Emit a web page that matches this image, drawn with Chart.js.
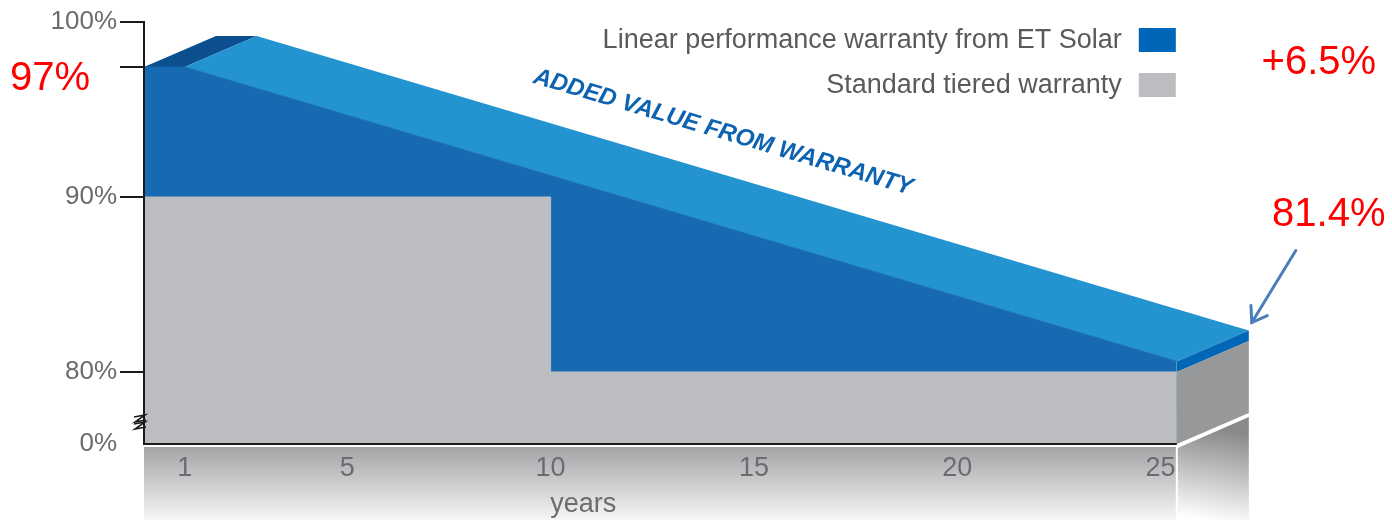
<!DOCTYPE html>
<html>
<head>
<meta charset="utf-8">
<script src="https://cdn.jsdelivr.net/npm/chart.js@4/dist/chart.umd.min.js"></script>
<style>
html,body{margin:0;padding:0;background:#ffffff;}
#wrap{width:1392px;height:520px;position:relative;}
</style>
</head>
<body>
<div id="wrap"><canvas id="c"></canvas></div>
<script>
// ---------- data ----------
const linearYears  = [0, 1, 25.4];
const linearValues = [97, 97, 80.6];
const tieredYears  = [0, 10, 25.4];
const tieredValues = [90, 80, 80];
const xTickYears   = [1, 5, 10, 15, 20, 25];
const xTickLabels  = ['1', '5', '10', '15', '20', '25'];
const yTickValues  = [0, 80, 90, 97, 100];
const yTickLabels  = ['0%', '80%', '90%', '', '100%'];
const seriesLabels = ['Linear performance warranty from ET Solar', 'Standard tiered warranty'];
const startLabel   = '97%';
const gainLabel    = '+6.5%';
const endLabel     = '81.4%';
const bannerText   = 'ADDED VALUE FROM WARRANTY';
const xTitle       = 'years';

// ---------- broken y axis (percent -> axis units) ----------
const axisKnotsValue = [0, 80, 90, 97, 100];
const axisKnotsUnit  = [0, 72, 247, 377, 422];
function warp(v) {
  for (let i = 1; i < axisKnotsValue.length; i++) {
    if (v <= axisKnotsValue[i]) {
      const a = axisKnotsValue[i - 1], b = axisKnotsValue[i];
      return axisKnotsUnit[i - 1] + (v - a) / (b - a) * (axisKnotsUnit[i] - axisKnotsUnit[i - 1]);
    }
  }
  return axisKnotsUnit[axisKnotsUnit.length - 1];
}

// ---------- styles ----------
const FONT = "'Liberation Sans', Arial, Helvetica, sans-serif";
const C = {
  front: '#1769b2', top: '#2394d0', bevel: '#0c4f8e', cap: '#0066b5',
  gray: '#bcbdc0', graySide: '#97989a', legendBlue: '#0066b8', legendGray: '#bcbdc0',
  axis: '#1a1a1a', tick: '#6b6c6f', legendText: '#595a5c', banner: '#0d63b0',
  red: '#ff0000', arrow: '#4a7ebb'
};
const DEPTH = { dx: 72, dy: -31 };

function poly(ctx, pts, color) {
  ctx.beginPath();
  ctx.moveTo(pts[0].x, pts[0].y);
  for (let i = 1; i < pts.length; i++) ctx.lineTo(pts[i].x, pts[i].y);
  ctx.closePath();
  ctx.fillStyle = color;
  ctx.fill();
}

const extrude = {
  id: 'extrude',
  beforeDraw(chart) {
    // floor band below the axis (drawn before the scales so tick labels sit on it)
    const ctx = chart.ctx;
    const ys = chart.scales.y;
    const L = chart.getDatasetMeta(0).data;
    if (!L.length) return;
    const p0 = L[0], p2 = L[L.length - 1];
    const base = ys.getPixelForValue(warp(0));
    const H = chart.height;
    ctx.save();
    let g = ctx.createLinearGradient(0, base + 3, 0, H);
    g.addColorStop(0, '#a3a4a6');
    g.addColorStop(1, '#f6f6f6');
    ctx.fillStyle = g;
    ctx.fillRect(p0.x, base + 3, p2.x - 1 - p0.x, H - base - 3);
    const s0 = { x: p2.x + 1, y: base + 4 }, s1 = { x: p2.x + DEPTH.dx, y: base + 4 + DEPTH.dy };
    g = ctx.createLinearGradient(p2.x + DEPTH.dx / 2, base + DEPTH.dy / 2, p2.x + DEPTH.dx / 2 - 15, base + 75);
    g.addColorStop(0, '#88898b');
    g.addColorStop(1, '#ffffff');
    poly(ctx, [s0, s1, { x: s1.x, y: H }, { x: s0.x, y: H }], g);
    ctx.restore();
  },
  beforeDatasetsDraw(chart) {
    const ctx = chart.ctx;
    const ys = chart.scales.y;
    const L = chart.getDatasetMeta(0).data;
    const T = chart.getDatasetMeta(1).data;
    const off = p => ({ x: p.x + DEPTH.dx, y: p.y + DEPTH.dy });
    const p0 = L[0], p1 = L[1], p2 = L[L.length - 1];
    const q2 = T[T.length - 1];
    const base = ys.getPixelForValue(warp(0));
    const b2 = { x: p2.x, y: base };
    ctx.save();
    poly(ctx, [p0, p1, off(p1), off(p0)], C.bevel);
    poly(ctx, [p1, p2, off(p2), off(p1)], C.top);
    poly(ctx, [p2, q2, off(q2), off(p2)], C.cap);
    poly(ctx, [q2, b2, off(b2), off(q2)], C.graySide);
    ctx.restore();
  },
  afterDatasetsDraw(chart) {
    const ctx = chart.ctx;
    const xs = chart.scales.x, ys = chart.scales.y;
    const L = chart.getDatasetMeta(0).data;
    const p1 = L[1], p2 = L[L.length - 1];
    const corner = { x: p2.x + DEPTH.dx, y: p2.y + DEPTH.dy };
    ctx.save();

    // legend
    const legendColors = [C.legendBlue, C.legendGray];
    const sqRight = corner.x - 73, sqW = 37, sqH = 24;
    ctx.font = '27px ' + FONT;
    ctx.textAlign = 'right';
    ctx.textBaseline = 'middle';
    seriesLabels.forEach((lab, i) => {
      const cy = 40 + i * 45;
      ctx.fillStyle = C.legendText;
      ctx.fillText(lab, sqRight - sqW - 17, cy + 1);
      ctx.fillStyle = legendColors[i];
      ctx.fillRect(sqRight - sqW, cy - sqH / 2, sqW, sqH);
    });

    // banner along the top face
    const ang = Math.atan2(p2.y - p1.y, p2.x - p1.x);
    const t = 0.47;
    const bx = p1.x + DEPTH.dx + t * (p2.x - p1.x);
    const by = p1.y + DEPTH.dy + t * (p2.y - p1.y) - 42;
    ctx.translate(bx, by);
    ctx.rotate(ang);
    ctx.font = 'italic bold 24px ' + FONT;
    ctx.textAlign = 'center';
    ctx.fillStyle = C.banner;
    ctx.fillText(bannerText, 0, 0);
    ctx.setTransform(1, 0, 0, 1, 0, 0);

    // red annotations
    ctx.fillStyle = C.red;
    ctx.font = '40px ' + FONT;
    ctx.textAlign = 'left';
    ctx.fillText(startLabel, 10, ys.getPixelForValue(warp(97)) + 12);
    ctx.textAlign = 'center';
    ctx.fillText(gainLabel, corner.x + 70, 63);
    ctx.fillText(endLabel, corner.x + 80, corner.y - 116);

    // arrow to the end corner
    ctx.strokeStyle = C.arrow;
    ctx.lineWidth = 3;
    ctx.lineCap = 'round';
    const a0 = { x: corner.x + 47, y: corner.y - 80 }, a1 = { x: corner.x + 3, y: corner.y - 8 };
    ctx.beginPath(); ctx.moveTo(a0.x, a0.y); ctx.lineTo(a1.x, a1.y); ctx.stroke();
    const da = Math.atan2(a1.y - a0.y, a1.x - a0.x);
    ctx.beginPath();
    ctx.moveTo(a1.x - 17 * Math.cos(da - 0.6), a1.y - 17 * Math.sin(da - 0.6));
    ctx.lineTo(a1.x, a1.y);
    ctx.lineTo(a1.x - 17 * Math.cos(da + 0.6), a1.y - 17 * Math.sin(da + 0.6));
    ctx.stroke();

    // axis break mark
    const ax = xs.left, by0 = ys.getPixelForValue(warp(0));
    ctx.strokeStyle = C.axis;
    ctx.lineWidth = 1.6;
    ctx.lineCap = 'butt';
    ctx.lineJoin = 'miter';
    [0, 7].forEach(k => {
      ctx.beginPath();
      ctx.moveTo(ax - 10, by0 - 27 + k);
      ctx.lineTo(ax + 1, by0 - 29 + k);
      ctx.lineTo(ax - 9, by0 - 22 + k);
      ctx.lineTo(ax + 2, by0 - 24 + k);
      ctx.stroke();
    });

    // x title
    ctx.fillStyle = C.tick;
    ctx.font = '27px ' + FONT;
    ctx.textAlign = 'center';
    ctx.textBaseline = 'middle';
    ctx.fillText(xTitle, xs.getPixelForValue(10.8), 505);
    ctx.restore();
  }
};

const ctxEl = document.getElementById('c');
new Chart(ctxEl, {
  type: 'line',
  data: {
    datasets: [
      {
        label: seriesLabels[0],
        data: linearYears.map((x, i) => ({ x, y: warp(linearValues[i]) })),
        backgroundColor: C.front, borderColor: C.front, borderWidth: 1,
        fill: 'origin', pointRadius: 0, tension: 0, order: 3
      },
      {
        label: seriesLabels[1],
        data: tieredYears.map((x, i) => ({ x, y: warp(tieredValues[i]) })),
        backgroundColor: C.gray, borderColor: C.gray, borderWidth: 1,
        fill: 'origin', stepped: 'before', pointRadius: 0, order: 2
      },
      {
        label: 'axis',
        data: [{ x: tieredYears[0], y: warp(0) }, { x: tieredYears[tieredYears.length - 1], y: warp(0) }],
        borderColor: C.axis, borderWidth: 2, fill: false, pointRadius: 0, order: 1, clip: 4
      }
    ]
  },
  options: {
    responsive: true,
    maintainAspectRatio: false,
    animation: false,
    events: [],
    layout: { padding: { top: 22, right: 142, left: 0, bottom: 0 } },
    font: { family: FONT },
    plugins: { legend: { display: false }, tooltip: { enabled: false } },
    scales: {
      x: {
        type: 'linear', min: 0, max: 27.2,
        afterBuildTicks: s => { s.ticks = xTickYears.map(v => ({ value: v })); },
        ticks: {
          callback: (v, i) => xTickLabels[i],
          font: { size: 27, family: FONT }, color: C.tick, padding: 8,
          maxRotation: 0, autoSkip: false
        },
        grid: { display: false, drawTicks: false },
        border: { display: false },
        afterFit: s => { s.height = 76; }
      },
      y: {
        type: 'linear', min: 0, max: 422,
        afterBuildTicks: s => { s.ticks = yTickValues.map(v => ({ value: warp(v) })); },
        ticks: {
          callback: (v, i) => yTickLabels[i],
          font: { size: 26, family: FONT }, color: C.tick, padding: 3, autoSkip: false
        },
        grid: {
          drawOnChartArea: false, drawTicks: true, tickLength: 24, lineWidth: 2,
          color: c => (c.tick && c.tick.value === 0) ? 'rgba(0,0,0,0)' : C.axis
        },
        border: { display: true, color: C.axis, width: 2, z: 1 },
        afterFit: s => { s.width = 144; }
      }
    }
  },
  plugins: [extrude]
});
</script>
</body>
</html>
